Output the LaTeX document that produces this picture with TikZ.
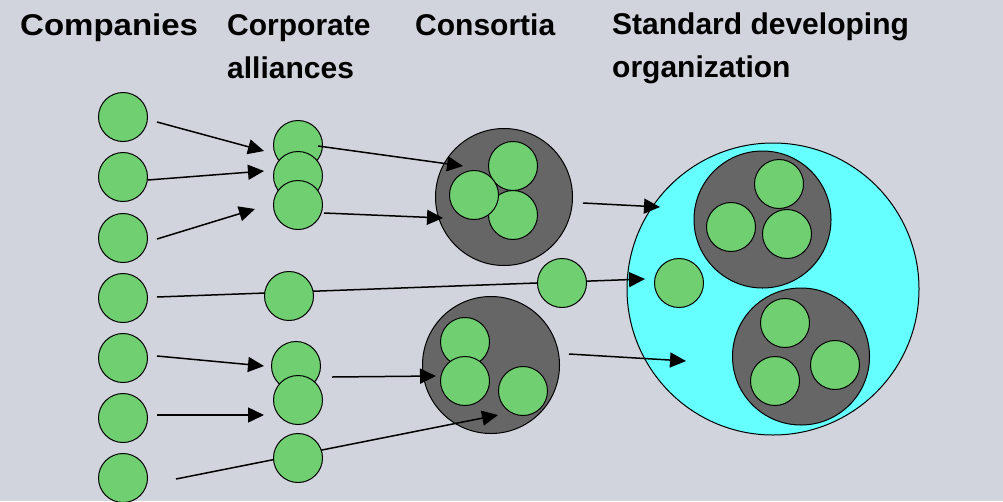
\documentclass[tikz,border=0pt]{standalone}
\usepackage{fontspec}
\setmainfont{Liberation Sans}
\usetikzlibrary{arrows.meta}
\definecolor{bg}{RGB}{209,212,220}
\definecolor{grn}{RGB}{112,207,112}
\definecolor{drk}{RGB}{102,102,102}
\definecolor{cyn}{RGB}{102,255,255}
\tikzset{
  gball/.style={circle,draw=black,fill=grn,line width=1pt,minimum size=49pt,inner sep=0pt},
  dball/.style={circle,draw=black,fill=drk,line width=1pt,minimum size=137pt,inner sep=0pt},
  sball/.style={circle,draw=black,fill=cyn,line width=1pt,minimum size=292pt,inner sep=0pt},
  conn/.style={line width=1.5pt,-{Triangle[length=16pt,width=15pt]}},
  lbl/.style={font=\fontsize{30}{43}\selectfont\bfseries,anchor=base west,inner sep=0pt,align=left}
}
\begin{document}
\begin{tikzpicture}[x=1pt,y=-1pt]
\fill[bg] (0,0) rectangle (1003,501);
\useasboundingbox (0,0) rectangle (1003,501);
% labels
\node[lbl,xscale=1.1,transform shape] (t1) at (20,35) {Companies};
\node[lbl] (t2) at (227,78) {Corporate\\alliances};
\node[lbl] (t3) at (415,35) {Consortia};
\node[lbl] (t4) at (612,77) {Standard developing\\organization};
% big circles
\node[sball] (sdo) at (773,289) {};
\node[dball] (k1) at (504,197) {};
\node[dball] (k2) at (491,365) {};
\node[dball] (s1) at (762.5,219.5) {};
\node[dball] (s2) at (801,356.5) {};
% coordinates
\coordinate (p1) at (157,122); \coordinate (q1) at (264,151);
\coordinate (p2) at (148,180); \coordinate (q2) at (264,171);
\coordinate (p3) at (157,239); \coordinate (q3) at (255,209);
\coordinate (p4) at (157,297); \coordinate (q4) at (645,279);
\coordinate (p5) at (318,146); \coordinate (q5) at (463,166);
\coordinate (p6) at (324,213); \coordinate (q6) at (443,218);
\coordinate (p7) at (157,356); \coordinate (q7) at (264,366);
\coordinate (p8) at (157,415); \coordinate (q8) at (264,415);
\coordinate (p9) at (332,377); \coordinate (q9) at (436,376);
\coordinate (p10) at (176,479); \coordinate (q10) at (498,415);
\coordinate (p11) at (583,203); \coordinate (q11) at (660,207);
\coordinate (p12) at (569,354); \coordinate (q12) at (686,361);
% connectors below balls
\draw[conn] (p1) -- (q1);
\draw[conn] (p2) -- (q2);
\draw[conn] (p3) -- (q3);
\draw[conn] (p4) -- (q4);
\draw[conn] (p6) -- (q6);
\draw[conn] (p7) -- (q7);
\draw[conn] (p8) -- (q8);
\draw[conn] (p9) -- (q9);
\draw[conn] (p10) -- (q10);
\draw[conn] (p11) -- (q11);
\draw[conn] (p12) -- (q12);
% companies
\node[gball] (c1) at (123,117) {};
\node[gball] (c2) at (123,177) {};
\node[gball] (c3) at (123,238) {};
\node[gball] (c4) at (123,298) {};
\node[gball] (c5) at (123,358) {};
\node[gball] (c6) at (123,418) {};
\node[gball] (c7) at (123,478) {};
% alliances
\node[gball] (a1) at (298,145) {};
\node[gball] (a2) at (298,176) {};
\node[gball] (a3) at (298,205) {};
\node[gball] (a4) at (289,296) {};
\node[gball] (a5) at (296,366) {};
\node[gball] (a6) at (298,400) {};
\node[gball] (a7) at (298,458) {};
% consortia
\node[gball] (k1a) at (513,166) {};
\node[gball] (k1b) at (513,215) {};
\node[gball] (k1c) at (474,195) {};
\node[gball] (km) at (562,283) {};
\node[gball] (k2a) at (465,342) {};
\node[gball] (k2b) at (465,381) {};
\node[gball] (k2c) at (523,391) {};
% SDO
\node[gball] (s1a) at (779,184) {};
\node[gball] (s1b) at (731,227) {};
\node[gball] (s1c) at (787,234) {};
\node[gball] (sm) at (679,283) {};
\node[gball] (s2a) at (785,323) {};
\node[gball] (s2b) at (835,365) {};
\node[gball] (s2c) at (775,381) {};
% connector on top
\draw[conn] (p5) -- (q5);
\end{tikzpicture}
\end{document}
